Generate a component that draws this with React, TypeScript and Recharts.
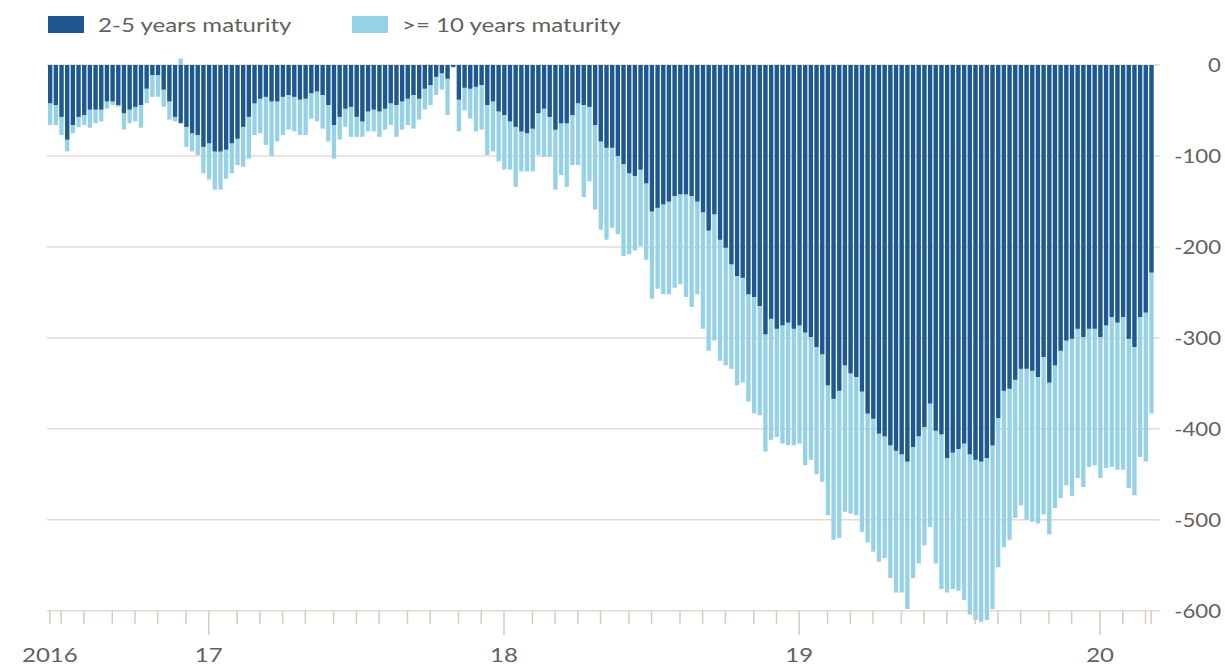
import { Bar, BarChart, CartesianGrid, Legend, XAxis, YAxis } from "recharts";

// weekly positioning data, first report 21 Jun 2016, last 10 Mar 2020
const FIRST_WEEK = Date.UTC(2016, 5, 21);
const WEEK_MS = 7 * 24 * 60 * 60 * 1000;

// thousands of contracts
const twoToFiveYears = [
  -42, -44, -57, -82, -66, -57, -55, -49, -49, -49, -40, -40, -44, -53, -49, -46, -44, -26, -11, -11,
  -27, -40, -57, -64, -68, -75, -77, -90, -86, -95, -95, -93, -86, -81, -68, -57, -42, -37, -35, -40,
  -40, -35, -33, -35, -38, -37, -31, -29, -33, -44, -66, -57, -48, -46, -57, -62, -51, -49, -51, -48,
  -42, -44, -40, -37, -33, -37, -26, -22, -13, -9, -15, -2, -38, -25, -26, -24, -22, -44, -40, -51,
  -55, -62, -68, -73, -75, -70, -53, -48, -57, -71, -64, -64, -55, -42, -44, -46, -66, -84, -91, -91,
  -100, -109, -119, -122, -115, -130, -161, -157, -153, -150, -144, -142, -142, -144, -150, -162, -182, -164, -192, -201,
  -219, -232, -234, -252, -255, -265, -296, -279, -290, -286, -283, -290, -286, -294, -299, -310, -318, -352, -367, -358,
  -330, -339, -343, -359, -383, -389, -405, -408, -418, -424, -428, -436, -420, -408, -398, -372, -402, -406, -432, -426,
  -422, -416, -428, -434, -436, -432, -418, -388, -358, -356, -346, -334, -334, -336, -343, -321, -349, -330, -314, -303,
  -301, -290, -299, -290, -290, -299, -286, -277, -283, -277, -301, -310, -277, -272, -228,
];

const tenYearsPlus = [
  -66, -66, -77, -95, -75, -68, -66, -69, -64, -62, -48, -44, -46, -71, -64, -62, -69, -42, -35, -35,
  -46, -60, -62, 7, -90, -95, -99, -119, -126, -137, -137, -125, -119, -110, -112, -103, -77, -75, -88, -100,
  -84, -77, -71, -73, -77, -77, -59, -62, -70, -84, -103, -82, -68, -79, -79, -79, -73, -73, -79, -71,
  -66, -79, -71, -66, -70, -60, -49, -44, -33, -27, -55, -3, -73, -50, -59, -73, -71, -99, -95, -106,
  -115, -115, -134, -117, -117, -117, -99, -101, -101, -137, -121, -134, -110, -110, -145, -128, -159, -181, -192, -179,
  -186, -210, -208, -204, -199, -214, -257, -246, -252, -252, -245, -241, -255, -266, -252, -290, -314, -303, -325, -330,
  -334, -352, -349, -370, -383, -385, -425, -412, -409, -416, -418, -418, -416, -440, -434, -450, -458, -495, -522, -520,
  -491, -493, -495, -513, -525, -535, -546, -542, -564, -580, -580, -598, -564, -548, -528, -508, -548, -576, -580, -576,
  -578, -588, -604, -610, -612, -610, -598, -552, -530, -522, -498, -484, -500, -502, -504, -494, -516, -487, -476, -462,
  -474, -454, -464, -442, -440, -454, -443, -442, -445, -445, -465, -473, -431, -436, -383,
];

const valueTicks = [0, -100, -200, -300, -400, -500, -600];
const seriesNames = ["2-5 years maturity", ">= 10 years maturity"];
const seriesColors = ["#1f5890", "#96d2e7"];

const weeks = twoToFiveYears.map((_, i) => new Date(FIRST_WEEK + i * WEEK_MS));

const data = weeks.map((d, i) => ({
  week: d.toISOString().slice(0, 10),
  twoToFive: twoToFiveYears[i],
  tenPlus: tenYearsPlus[i],
}));

// a tick on the first report of every month, plus the first and last report
const tickInfo = new Map<string, { label: string; major: boolean }>();
weeks.forEach((d, i) => {
  const key = data[i].week;
  if (i === 0) {
    tickInfo.set(key, { label: String(d.getUTCFullYear()), major: false });
  } else if (d.getUTCMonth() !== weeks[i - 1].getUTCMonth()) {
    const jan = d.getUTCMonth() === 0;
    tickInfo.set(key, { label: jan ? String(d.getUTCFullYear()).slice(2) : "", major: jan });
  } else if (i === weeks.length - 1) {
    tickInfo.set(key, { label: "", major: false });
  }
});
const weekTicks = Array.from(tickInfo.keys());

// the source image is stretched sideways, so the text is too
const STRETCH = 1.3;
const FONT = "Lato, 'Open Sans', sans-serif";
const TEXT = "#66605c";
const GRID = "#e6dad0";
const TICK = "#d6cbc3";

function WeekTick({ x, y, payload }: any) {
  const info = tickInfo.get(payload.value);
  if (!info) return null;
  const axisY = y - 18;
  return (
    <g>
      <line x1={x} x2={x} y1={axisY} y2={axisY + (info.major ? 24 : 13)} stroke={TICK} strokeWidth={1.5} />
      {info.label && (
        <text
          transform={`translate(${x} ${axisY + 51}) scale(${STRETCH} 1)`}
          textAnchor="middle"
          fill={TEXT}
          fontSize={18.5}
          fontFamily={FONT}
        >
          {info.label}
        </text>
      )}
    </g>
  );
}

function ValueTick({ x, y, payload }: any) {
  return (
    <text
      transform={`translate(${x + 53} ${y}) scale(1.2 1)`}
      textAnchor="end"
      dominantBaseline="central"
      fill={TEXT}
      fontSize={18.5}
      fontFamily={FONT}
    >
      {payload.value}
    </text>
  );
}

function ChartLegend() {
  const items = [
    { swatch: 48, text: 98 },
    { swatch: 352, text: 402 },
  ];
  return (
    <div style={{ position: "relative", width: 700, height: 45, fontFamily: FONT }}>
      {items.map((it, i) => (
        <div key={seriesNames[i]}>
          <div
            style={{
              position: "absolute",
              left: it.swatch,
              top: 16,
              width: 36,
              height: 17,
              background: seriesColors[i],
            }}
          />
          <span
            style={{
              position: "absolute",
              left: it.text,
              top: 12,
              fontSize: 18.5,
              lineHeight: "26px",
              color: TEXT,
              whiteSpace: "nowrap",
              transform: `scaleX(${STRETCH})`,
              transformOrigin: "0 50%",
            }}
          >
            {seriesNames[i]}
          </span>
        </div>
      ))}
    </div>
  );
}

export default function App() {
  return (
    <div style={{ position: "absolute", left: 0, top: 0, background: "#fff" }}>
      <BarChart
        width={1225}
        height={668}
        data={data}
        margin={{ top: 57.7, right: 0, bottom: 0, left: 47 }}
        barSize={4.3}
        barGap={-4.3}
      >
        <CartesianGrid
          stroke={GRID}
          strokeWidth={1.5}
          vertical={false}
          horizontalValues={valueTicks}
        />
        <XAxis
          dataKey="week"
          ticks={weekTicks}
          interval={0}
          height={39}
          axisLine={false}
          tickLine={false}
          tickSize={0}
          tickMargin={0}
          tick={<WeekTick />}
        />
        <YAxis
          orientation="right"
          domain={[-620, 8]}
          ticks={valueTicks}
          width={71}
          axisLine={false}
          tickLine={{ stroke: GRID, strokeWidth: 1.5 }}
          tickSize={6}
          tickMargin={8}
          tick={<ValueTick />}
        />
        <Legend
          verticalAlign="middle"
          align="center"
          wrapperStyle={{ top: 0, left: 0, width: 700, height: 45 }}
          content={<ChartLegend />}
        />
        <Bar dataKey="tenPlus" name={seriesNames[1]} fill={seriesColors[1]} isAnimationActive={false} />
        <Bar dataKey="twoToFive" name={seriesNames[0]} fill={seriesColors[0]} isAnimationActive={false} />
      </BarChart>
    </div>
  );
}
